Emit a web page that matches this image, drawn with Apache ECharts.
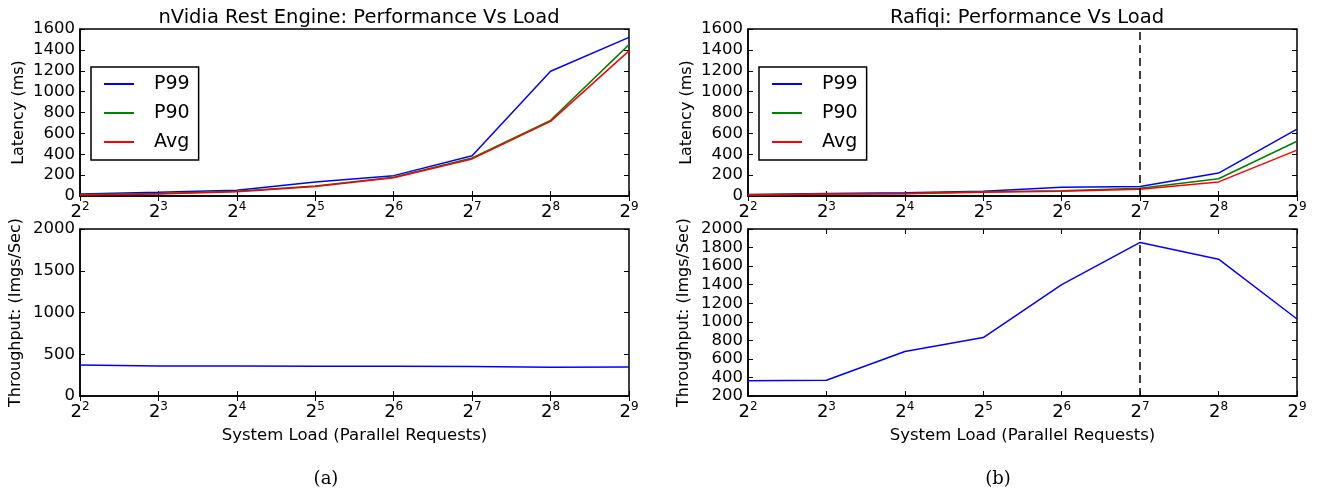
<!DOCTYPE html>
<html>
<head>
<meta charset="utf-8">
<script src="https://cdn.jsdelivr.net/npm/echarts@6/dist/echarts.min.js"></script>
<style>
html,body{margin:0;padding:0;background:#fff;}
#main{width:1320px;height:491px;}
</style>
</head>
<body>
<div id="main"></div>
<script>
var chart = echarts.init(document.getElementById('main'));

// x categories: exponents of 2 (system load)
var loadExp = ['2', '3', '4', '5', '6', '7', '8', '9'];

// nVidia Rest Engine
var nvP99 = [20, 35, 55, 135, 195, 385, 1195, 1520];
var nvP90 = [15, 25, 45, 95, 180, 365, 725, 1450];
var nvAvg = [10, 20, 40, 90, 175, 355, 715, 1390];
var nvThroughput = [370, 360, 358, 355, 355, 353, 345, 348];

// Rafiqi
var rqP99 = [15, 25, 30, 45, 85, 90, 220, 640];
var rqP90 = [10, 20, 25, 40, 50, 75, 165, 525];
var rqAvg = [8, 18, 22, 35, 45, 65, 135, 440];
var rqThroughput = [365, 370, 680, 830, 1400, 1855, 1675, 1030];
var rqMarkLoad = '7';

var font = 'DejaVu Sans';
var grids = [
    {left: 80, right: 691, top: 29, height: 167},
    {left: 80, right: 691, top: 229, height: 167},
    {left: 748, right: 23, top: 29, height: 167},
    {left: 748, right: 23, top: 229, height: 167}
];
grids.forEach(function (g) {
    g.show = true;
    g.borderColor = '#000';
    g.borderWidth = 1.5;
    g.backgroundColor = 'transparent';
});

function xAx(gi, showName) {
    return {
        type: 'category',
        gridIndex: gi,
        data: loadExp,
        boundaryGap: false,
        axisLine: {show: true, lineStyle: {color: '#000', width: 1.5}},
        axisTick: {show: true, inside: true, length: 5, lineStyle: {color: '#000'}},
        splitLine: {show: false},
        axisLabel: {
            margin: 5,
            formatter: function (v) { return '{b|2}{s|' + v + '}'; },
            rich: {
                b: {fontFamily: font, fontSize: 18, color: '#000'},
                s: {fontFamily: font, fontSize: 12, color: '#000', padding: [0, 0, 10, 0]}
            }
        },
        name: showName ? 'System Load (Parallel Requests)' : '',
        nameLocation: 'middle',
        nameGap: 31,
        nameTextStyle: {fontFamily: font, fontSize: 16.5, color: '#000'}
    };
}
function xTop(gi) {
    return {
        type: 'category', gridIndex: gi, data: loadExp, boundaryGap: false, position: 'top',
        axisLine: {show: false},
        axisTick: {show: true, inside: true, length: 5, lineStyle: {color: '#000'}},
        axisLabel: {show: false}, splitLine: {show: false}
    };
}
function yAx(gi, min, max, interval, name, gap) {
    return {
        type: 'value', gridIndex: gi, min: min, max: max, interval: interval,
        axisLine: {show: true, lineStyle: {color: '#000', width: 1.5}},
        axisTick: {show: true, inside: true, length: 5, lineStyle: {color: '#000'}},
        splitLine: {show: false},
        axisLabel: {fontFamily: font, fontSize: 16.5, color: '#000', margin: 5,
                    formatter: function (v) { return String(v); }},
        name: name, nameLocation: 'middle', nameRotate: 90, nameGap: gap,
        nameTextStyle: {fontFamily: font, fontSize: 16, color: '#000'}
    };
}
function yRight(gi, min, max, interval) {
    return {
        type: 'value', gridIndex: gi, min: min, max: max, interval: interval, position: 'right',
        axisLine: {show: false},
        axisTick: {show: true, inside: true, length: 5, lineStyle: {color: '#000'}},
        axisLabel: {show: false}, splitLine: {show: false}
    };
}

function line(name, data, color, xi, yi) {
    return {
        name: name, type: 'line', data: data, xAxisIndex: xi, yAxisIndex: yi,
        symbol: 'none', lineStyle: {color: color, width: 1.5}, itemStyle: {color: color},
        animation: false
    };
}
var markLine = {
    silent: true, symbol: 'none', animation: false,
    label: {show: false},
    lineStyle: {color: '#000', type: [8, 5], width: 1.5},
    data: [{xAxis: rqMarkLoad}]
};

var series = [
    line('P99', nvP99, '#0000ff', 0, 0),
    line('P90', nvP90, '#008000', 0, 0),
    line('Avg', nvAvg, '#ff0000', 0, 0),
    line('Throughput', nvThroughput, '#0000ff', 1, 1),
    line('P99', rqP99, '#0000ff', 2, 2),
    line('P90', rqP90, '#008000', 2, 2),
    line('Avg', rqAvg, '#ff0000', 2, 2),
    line('Throughput', rqThroughput, '#0000ff', 3, 3)
];
series[6].markLine = markLine;
series[7].markLine = markLine;

function legend(left) {
    return {
        left: left, top: 67, orient: 'vertical',
        data: ['P99', 'P90', 'Avg'],
        icon: 'rect',
        borderColor: '#000', borderWidth: 1.5, borderRadius: 0,
        padding: [6, 9, 7, 13],
        itemWidth: 30, itemHeight: 2, itemGap: 7,
        textStyle: {fontFamily: font, fontSize: 19, lineHeight: 22, color: '#000', padding: [0, 0, 0, 15]},
        selectedMode: false
    };
}

var option = {
    animation: false,
    title: [
        {text: 'nVidia Rest Engine: Performance Vs Load', left: 354, top: 3, textAlign: 'center',
         textStyle: {fontFamily: font, fontSize: 19.5, fontWeight: 'normal', color: '#000'}},
        {text: 'Rafiqi: Performance Vs Load', left: 1022, top: 3, textAlign: 'center',
         textStyle: {fontFamily: font, fontSize: 19.5, fontWeight: 'normal', color: '#000'}},
        {text: '(a)', left: 321, top: 465, textAlign: 'center',
         textStyle: {fontFamily: 'DejaVu Serif', fontSize: 18, fontWeight: 'normal', color: '#000'}},
        {text: '(b)', left: 993, top: 465, textAlign: 'center',
         textStyle: {fontFamily: 'DejaVu Serif', fontSize: 18, fontWeight: 'normal', color: '#000'}}
    ],
    grid: grids,
    legend: [legend(91), legend(759)],
    xAxis: [
        xAx(0, false), xAx(1, true), xAx(2, false), xAx(3, true),
        xTop(0), xTop(1), xTop(2), xTop(3)
    ],
    yAxis: [
        yAx(0, 0, 1600, 200, 'Latency (ms)', 53),
        yAx(1, 0, 2000, 500, 'Throughput: (Imgs/Sec)', 56),
        yAx(2, 0, 1600, 200, 'Latency (ms)', 53),
        yAx(3, 200, 2000, 200, 'Throughput: (Imgs/Sec)', 56),
        yRight(0, 0, 1600, 200), yRight(1, 0, 2000, 500),
        yRight(2, 0, 1600, 200), yRight(3, 200, 2000, 200)
    ],
    series: series
};
chart.setOption(option);
</script>
</body>
</html>
